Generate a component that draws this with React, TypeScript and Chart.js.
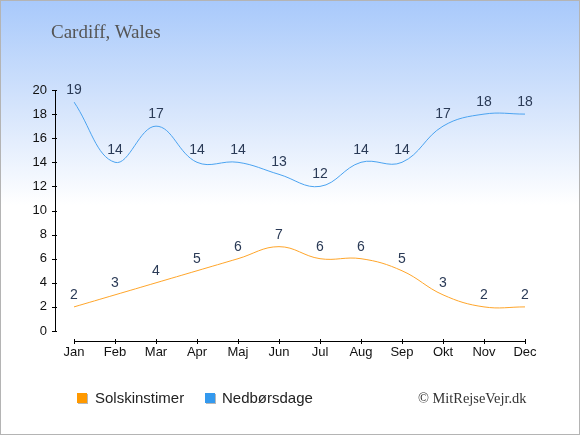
import React, { useEffect, useRef } from "react";
import { Chart, registerables } from "chart.js";

Chart.register(...registerables);

const months = ["Jan", "Feb", "Mar", "Apr", "Maj", "Jun", "Jul", "Aug", "Sep", "Okt", "Nov", "Dec"];
const sunHours = [2, 3, 4, 5, 6, 7, 6, 6, 5, 3, 2, 2];
const rainDays = [19, 14, 17, 14, 14, 13, 12, 14, 14, 17, 18, 18];
const yTicks = [0, 2, 4, 6, 8, 10, 12, 14, 16, 18, 20];

const SANS = "'Liberation Sans', Arial, sans-serif";
const SERIF = "'Liberation Serif', 'Times New Roman', serif";

const axesPlugin = {
  id: "customAxes",
  afterDraw(chart: any) {
    const ctx = chart.ctx;
    const xs = chart.scales.x;
    const ys = chart.scales.y;
    ctx.save();
    ctx.strokeStyle = "#000";
    ctx.lineWidth = 1;
    // y axis
    const ax = 55.5;
    const yTop = ys.getPixelForValue(20);
    const yBot = ys.getPixelForValue(0);
    ctx.beginPath();
    ctx.moveTo(ax, yTop);
    ctx.lineTo(ax, yBot);
    yTicks.forEach((v) => {
      const py = Math.round(ys.getPixelForValue(v)) + 0.5;
      ctx.moveTo(ax - 3.5, py);
      ctx.lineTo(ax + 1.5, py);
    });
    ctx.stroke();
    // x axis
    const ay = Math.round(yBot + 10) + 0.5;
    const x0 = xs.getPixelForValue(0);
    const x1 = xs.getPixelForValue(months.length - 1);
    ctx.beginPath();
    ctx.moveTo(x0, ay);
    ctx.lineTo(x1, ay);
    months.forEach((_, i) => {
      const px = Math.round(xs.getPixelForValue(i)) + 0.5;
      ctx.moveTo(px, ay - 2.5);
      ctx.lineTo(px, ay + 2.5);
    });
    ctx.stroke();
    ctx.restore();
  },
};

const labelPlugin = {
  id: "valueLabels",
  afterDatasetsDraw(chart: any) {
    const ctx = chart.ctx;
    ctx.save();
    ctx.font = `14px ${SANS}`;
    ctx.fillStyle = "#2a3a56";
    ctx.textAlign = "center";
    ctx.textBaseline = "alphabetic";
    chart.data.datasets.forEach((ds: any, di: number) => {
      const meta = chart.getDatasetMeta(di);
      meta.data.forEach((pt: any, i: number) => {
        ctx.fillText(String(ds.data[i]), pt.x, pt.y - 8);
      });
    });
    ctx.restore();
  },
};

export default function App() {
  const ref = useRef<HTMLCanvasElement>(null);

  useEffect(() => {
    document.body.style.margin = "0";
    if (!ref.current) return;
    const chart = new Chart(ref.current, {
      type: "line",
      data: {
        labels: months,
        datasets: [
          {
            label: "Solskinstimer",
            data: sunHours,
            borderColor: "#ffa52a",
            backgroundColor: "#ff9900",
            borderWidth: 1,
            pointRadius: 0,
            tension: 0.4,
            fill: false,
          },
          {
            label: "Nedbørsdage",
            data: rainDays,
            borderColor: "#4ba3f0",
            backgroundColor: "#3399ee",
            borderWidth: 1,
            pointRadius: 0,
            tension: 0.4,
            fill: false,
          },
        ],
      },
      options: {
        animation: false,
        responsive: false,
        devicePixelRatio: 1,
        layout: { padding: { left: 0, right: 55, top: 90, bottom: 74 } },
        plugins: {
          legend: { display: false },
          title: { display: false },
          tooltip: { enabled: false },
        },
        scales: {
          x: {
            type: "category",
            grid: { display: false, drawTicks: false },
            border: { display: false },
            ticks: {
              padding: 14,
              color: "#111",
              font: { family: SANS, size: 13 },
              maxRotation: 0,
              autoSkip: false,
            },
            afterFit: (s: any) => {
              s.height = 30;
            },
          },
          y: {
            min: 0,
            max: 20,
            grid: { display: false, drawTicks: false },
            border: { display: false },
            ticks: {
              stepSize: 2,
              padding: 27,
              color: "#111",
              font: { family: SANS, size: 13 },
            },
            afterFit: (s: any) => {
              s.width = 74;
            },
          },
        },
      },
      plugins: [axesPlugin, labelPlugin],
    });
    return () => chart.destroy();
  }, []);

  const legendText: React.CSSProperties = {
    position: "absolute",
    top: 389,
    font: `15px ${SANS}`,
    color: "#222",
    lineHeight: "18px",
    whiteSpace: "nowrap",
  };
  const box = (left: number, color: string): React.CSSProperties => ({
    position: "absolute",
    left,
    top: 393,
    width: 10,
    height: 10,
    background: color,
    boxShadow: "1px 1px 0 #b8b8b8",
  });

  return (
    <div
      style={{
        position: "relative",
        width: 580,
        height: 435,
        background: "linear-gradient(to bottom, #a8c9fb 0px, #d6e5fc 110px, #ffffff 205px, #ffffff 435px)",
        overflow: "hidden",
      }}
    >
      <canvas ref={ref} width={580} height={435} style={{ position: "absolute", left: 0, top: 0 }} />
      <div
        style={{
          position: "absolute",
          left: 51,
          top: 20,
          font: `19px ${SERIF}`,
          color: "#555",
          lineHeight: "24px",
          whiteSpace: "nowrap",
        }}
      >
        Cardiff, Wales
      </div>
      <div style={box(77, "#ff9900")} />
      <div style={{ ...legendText, left: 95 }}>Solskinstimer</div>
      <div style={box(205, "#3399ee")} />
      <div style={{ ...legendText, left: 222 }}>Nedbørsdage</div>
      <div
        style={{
          position: "absolute",
          left: 418,
          top: 389,
          font: `14.4px ${SERIF}`,
          color: "#333",
          lineHeight: "18px",
          whiteSpace: "nowrap",
        }}
      >
        © MitRejseVejr.dk
      </div>
      <div
        style={{
          position: "absolute",
          left: 0,
          top: 0,
          width: 580,
          height: 435,
          boxSizing: "border-box",
          border: "1px solid #b4b4b4",
          pointerEvents: "none",
        }}
      />
    </div>
  );
}
